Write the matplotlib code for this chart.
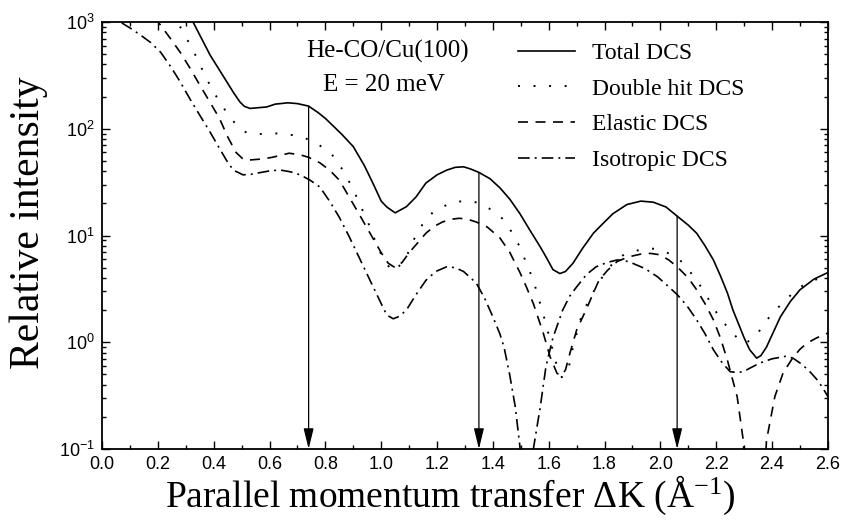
import matplotlib
matplotlib.use('Agg')
import matplotlib.pyplot as plt
from matplotlib import rc
from matplotlib.ticker import MultipleLocator, LogLocator, NullFormatter

rc('mathtext', default='regular')

# parallel momentum transfer (1/A) and relative intensities
k_total = [0.25, 0.326, 0.387, 0.447, 0.47, 0.494, 0.51, 0.53, 0.59, 0.62, 0.666, 0.70,
           0.74, 0.775, 0.80, 0.83, 0.86, 0.90, 0.94, 0.97, 1.0, 1.02, 1.05, 1.09,
           1.125, 1.16, 1.20, 1.235, 1.265, 1.295, 1.32, 1.35, 1.39, 1.425, 1.46, 1.497,
           1.53, 1.57, 1.595, 1.615, 1.64, 1.66, 1.687, 1.72, 1.76, 1.795, 1.83, 1.88,
           1.93, 1.975, 2.02, 2.064, 2.10, 2.13, 2.16, 2.19, 2.215, 2.24, 2.26, 2.285,
           2.30, 2.32, 2.345, 2.36, 2.38, 2.405, 2.43, 2.465, 2.50, 2.55, 2.60]
total = [1700, 1000, 490, 275, 220, 178, 162, 155, 160, 170, 175, 172,
         163, 141, 125, 105, 88, 68, 45, 31, 21, 18.5, 16.3, 18.6,
         23, 31, 37, 41, 43.5, 44, 42, 39, 34, 28, 22, 16,
         11.5, 7.8, 6, 4.8, 4.4, 4.6, 5.5, 7.5, 10.5, 13, 16, 19.5,
         21, 20.5, 18.5, 14.9, 12.5, 10.5, 8, 5.9, 4.2, 2.9, 2.0, 1.38,
         1.1, 0.85, 0.71, 0.75, 0.9, 1.25, 1.73, 2.4, 3.1, 3.9, 4.5]

k_double = [0.22, 0.28, 0.31, 0.34, 0.37, 0.40, 0.43, 0.46, 0.49, 0.52, 0.56, 0.61,
            0.66, 0.71, 0.757, 0.79, 0.83, 0.865, 0.90, 0.93, 0.96, 0.985, 1.01, 1.04,
            1.065, 1.09, 1.12, 1.15, 1.185, 1.22, 1.26, 1.295, 1.33, 1.365, 1.40, 1.44,
            1.47, 1.497, 1.52, 1.545, 1.58, 1.605, 1.63, 1.647, 1.67, 1.687, 1.72, 1.745,
            1.77, 1.80, 1.83, 1.865, 1.90, 1.96, 1.995, 2.03, 2.07, 2.10, 2.13, 2.16,
            2.19, 2.22, 2.25, 2.275, 2.297, 2.32, 2.345, 2.37, 2.40, 2.44, 2.475, 2.51,
            2.547, 2.575, 2.60]
double = [1600, 900, 650, 460, 310, 220, 165, 126, 103, 91, 89, 91,
          89, 85, 76, 67, 55, 40, 27, 18, 12, 8, 5.9, 4.6,
          5.2, 6.3, 9.5, 13, 16.5, 18.6, 20.5, 21, 20.8, 19.5, 17, 14,
          10.5, 7.8, 5.5, 3.8, 1.85, 1.05, 0.59, 0.47, 0.55, 0.91, 1.86, 2.5,
          3.3, 4.4, 5.5, 6.5, 7.1, 7.6, 7.4, 6.8, 5.9, 4.8, 3.8, 2.9,
          2.1, 1.6, 1.3, 1.1, 0.98, 1.03, 1.18, 1.45, 1.87, 2.35, 2.9, 3.4,
          3.8, 4.0, 4.1]

k_elastic = [0.15, 0.21, 0.245, 0.28, 0.315, 0.35, 0.385, 0.42, 0.45, 0.48, 0.505, 0.53,
             0.57, 0.61, 0.67, 0.71, 0.74, 0.78, 0.815, 0.85, 0.885, 0.92, 0.96, 1.0,
             1.025, 1.05, 1.075, 1.10, 1.13, 1.16, 1.19, 1.22, 1.25, 1.28, 1.31, 1.34,
             1.38, 1.425, 1.46, 1.497, 1.52, 1.545, 1.58, 1.605, 1.63, 1.647, 1.66, 1.676,
             1.70, 1.737, 1.76, 1.78, 1.81, 1.845, 1.885, 1.93, 1.965, 1.998, 2.03, 2.06,
             2.10, 2.13, 2.16, 2.19, 2.215, 2.24, 2.275, 2.297, 2.34, 2.38, 2.41, 2.44,
             2.475, 2.50, 2.525, 2.56, 2.60]
elastic = [1500, 930, 700, 520, 370, 257, 180, 126, 84, 60, 52, 51,
           52, 54, 59, 57, 54, 48, 41, 33, 23, 16, 10.5, 6.9,
           5.5, 5.0, 5.6, 6.9, 8.5, 10.5, 12.2, 13.4, 14.2, 14.5, 14.2, 13.4,
           12, 9.5, 7, 4.5, 3.3, 2.3, 1.23, 0.73, 0.51, 0.49, 0.55, 0.79,
           1.3, 2.1, 2.9, 3.8, 4.7, 5.7, 6.3, 6.7, 6.8, 6.6, 5.9, 5.1,
           4, 3.1, 2.3, 1.62, 1.1, 0.68, 0.31, 0.12, 0.001, 0.12, 0.31, 0.52,
           0.72, 0.86, 0.98, 1.1, 1.22]

k_iso = [0.0, 0.065, 0.10, 0.136, 0.175, 0.21, 0.245, 0.28, 0.315, 0.35, 0.385, 0.42,
         0.445, 0.47, 0.505, 0.535, 0.57, 0.605, 0.64, 0.675, 0.71, 0.745, 0.78, 0.815,
         0.85, 0.885, 0.92, 0.96, 1.0, 1.02, 1.043, 1.065, 1.09, 1.125, 1.16, 1.195,
         1.235, 1.265, 1.295, 1.34, 1.37, 1.40, 1.425, 1.44, 1.46, 1.48, 1.497, 1.52,
         1.545, 1.57, 1.59, 1.615, 1.65, 1.675, 1.70, 1.735, 1.77, 1.81, 1.845, 1.87,
         1.90, 1.945, 1.99, 2.025, 2.06, 2.095, 2.13, 2.16, 2.19, 2.22, 2.25, 2.275,
         2.297, 2.325, 2.357, 2.40, 2.45, 2.475, 2.50, 2.53, 2.56, 2.58, 2.60]
iso = [1300, 1000, 880, 760, 640, 520, 385, 275, 190, 134, 95, 66,
       51, 41, 37, 37.5, 39, 40.5, 41, 39.5, 37, 33, 28.5, 21,
       14.8, 9.8, 6.3, 3.8, 2.3, 1.8, 1.66, 1.75, 2.0, 2.8, 3.8, 4.6,
       5.1, 5.0, 4.6, 3.6, 2.6, 1.73, 1.2, 0.9, 0.5, 0.25, 0.105, 0.001,
       0.1, 0.25, 0.59, 1.1, 2.0, 2.7, 3.3, 4.3, 5.1, 5.6, 5.9, 5.85,
       5.5, 4.9, 4.1, 3.4, 2.8, 2.2, 1.62, 1.2, 0.85, 0.65, 0.53, 0.52,
       0.53, 0.58, 0.64, 0.7, 0.74, 0.71, 0.64, 0.55, 0.45, 0.38, 0.31]

# arrows from the total DCS curve down to the axis
arrow_k = [0.74, 1.35, 2.06]
arrow_top = [163, 39, 15.2]

ytick_vals = [0.1, 1, 10, 100, 1000]
ytick_labels = ['$10^{-1}$', '$10^{0}$', '$10^{1}$', '$10^{2}$', '$10^{3}$']

serif = ['Liberation Serif', 'DejaVu Serif']
tickfont = ['Liberation Sans Narrow', 'Liberation Sans', 'DejaVu Sans']

fig = plt.figure(figsize=(8.44, 5.2), dpi=100)
ax = fig.add_axes([0.1209, 0.1365, 0.8600, 0.8212])

lw = 1.2
ax.plot(k_total, total, color='black', lw=lw, linestyle='-', label='Total DCS')
ax.plot(k_double, double, color='black', lw=1.4, linestyle=(0, (1, 7)), label='Double hit DCS')
ax.plot(k_elastic, elastic, color='black', lw=lw, linestyle=(0, (6, 4.5)), label='Elastic DCS')
ax.plot(k_iso, iso, color='black', lw=lw, linestyle=(0, (7, 3, 1.2, 3)), label='Isotropic DCS')

for xk, yt in zip(arrow_k, arrow_top):
    ax.annotate('', xy=(xk, 0.1), xytext=(xk, yt),
                arrowprops=dict(arrowstyle='-|>,head_length=0.9,head_width=0.22',
                                color='black', lw=0.9, shrinkA=0, shrinkB=0,
                                mutation_scale=14))

ax.set_yscale('log')
ax.set_xlim(0.0, 2.6)
ax.set_ylim(0.1, 1000)
ax.xaxis.set_major_locator(MultipleLocator(0.2))
ax.xaxis.set_minor_locator(MultipleLocator(0.1))
ax.set_yticks(ytick_vals)
ax.set_yticklabels(ytick_labels)
ax.yaxis.set_minor_locator(LogLocator(base=10, subs=range(2, 10)))
ax.yaxis.set_minor_formatter(NullFormatter())
ax.set_xticklabels(['%.1f' % v for v in ax.get_xticks()])

ax.tick_params(which='both', direction='in', top=True, right=True, width=1.0)
ax.tick_params(which='major', length=6, labelsize=13, pad=5)
ax.tick_params(which='minor', length=3)
for lab in ax.get_xticklabels() + ax.get_yticklabels():
    lab.set_family(tickfont)
for sp in ax.spines.values():
    sp.set_linewidth(1.3)

ax.set_xlabel('Parallel momentum transfer \u0394K (\u00c5$^{-1}$)', family=serif, fontsize=27)
ax.xaxis.set_label_coords(0.48, -0.058)
ax.set_ylabel('Relative intensity', family=serif, fontsize=30)
ax.yaxis.set_label_coords(-0.075, 0.53)

ax.text(0.393, 0.93, 'He-CO/Cu(100)', transform=ax.transAxes, ha='center', va='center',
        family=serif, fontsize=18)
ax.text(0.389, 0.852, 'E = 20 meV', transform=ax.transAxes, ha='center', va='center',
        family=serif, fontsize=18)

leg = ax.legend(loc='upper left', bbox_to_anchor=(0.573, 0.952), frameon=False,
                prop={'family': serif, 'size': 17}, handlelength=2.4, handletextpad=0.75,
                labelspacing=0.6, borderaxespad=0, borderpad=0)

fig.savefig('out.png', dpi=100)
